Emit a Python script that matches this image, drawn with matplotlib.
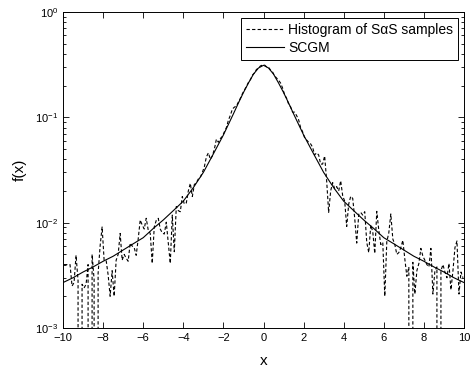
import numpy as np
import matplotlib
matplotlib.use("Agg")
import matplotlib.pyplot as plt

plt.rcParams['font.family'] = ['Liberation Sans', 'DejaVu Sans']
plt.rcParams['mathtext.fontset'] = 'custom'
plt.rcParams['mathtext.rm'] = 'Liberation Sans'
plt.rcParams['mathtext.it'] = 'Liberation Sans:italic'

# histogram of S-alpha-S samples, bin width 0.1 on [-10, 10]
hist_left_tail = [
    4.0e-3, 4.0e-3, 4.0e-3, 4.0e-3, 2.5e-3, 2.7e-3, 4.9e-3, 2.8e-3, 0.0, 2.6e-3,
    2.4e-3, 2.6e-3, 4.0e-3, 0.0, 5.0e-3, 2.9e-3, 0.0, 3.3e-3, 6.0e-3, 9.1e-3,
    4.4e-3, 4.4e-3, 3.2e-3, 2.0e-3, 3.5e-3, 2.0e-3, 4.4e-3, 5.0e-3, 7.9e-3, 4.4e-3,
    5.0e-3, 4.6e-3, 4.3e-3, 6.4e-3, 6.0e-3, 5.8e-3, 4.9e-3, 7.0e-3, 0.0106, 9.5e-3,
    8.7e-3, 0.0110, 8.5e-3, 7.9e-3, 4.1e-3, 9.1e-3, 0.0105, 0.0110, 8.7e-3, 8.0e-3,
    7.8e-3, 0.0101, 6.5e-3, 4.1e-3, 0.0118, 5.3e-3, 0.0142, 0.0130, 0.0127, 0.0177,
    0.0150, 0.0154, 0.0200, 0.0236, 0.0177, 0.0230, 0.0240, 0.0260, 0.0270, 0.0300,
]
hist_center = [
    0.034, 0.042, 0.046, 0.040, 0.043, 0.050, 0.062, 0.058, 0.063, 0.066,
    0.073, 0.080, 0.094, 0.105, 0.120, 0.125, 0.128, 0.140, 0.152, 0.168,
    0.182, 0.196, 0.215, 0.228, 0.252, 0.264, 0.285, 0.293, 0.308, 0.313,
    0.314, 0.302, 0.300, 0.281, 0.270, 0.248, 0.236, 0.225, 0.212, 0.190,
    0.165, 0.152, 0.134, 0.126, 0.112, 0.112, 0.104, 0.095, 0.080, 0.073,
    0.064, 0.061, 0.058, 0.056, 0.052, 0.044, 0.046, 0.044, 0.036, 0.036,
]
hist_right_tail = [
    0.043, 0.025, 0.0125, 0.020, 0.024, 0.021, 0.022, 0.020, 0.025, 0.018,
    0.016, 0.0092, 0.015, 0.0178, 0.017, 0.011, 0.0064, 0.012, 0.0125, 0.0118,
    0.0127, 0.0065, 0.0052, 0.0095, 0.0082, 0.0051, 0.0128, 0.0085, 0.0062, 0.0065,
    0.0020, 0.0066, 0.0080, 0.0121, 0.0070, 0.0062, 0.0050, 0.0052, 0.0058, 0.0068,
    0.0045, 0.0031, 0.0038, 0.0, 0.0042, 0.0021, 0.0035, 0.0041, 0.0057, 0.0048,
    0.0044, 0.0040, 0.0038, 0.0057, 0.0021, 0.0035, 0.0038, 0.0, 0.0035, 0.0040,
    0.0034, 0.0030, 0.0041, 0.0023, 0.0035, 0.0058, 0.0067, 0.0021, 0.0034, 0.0030,
]
bin_edges = np.linspace(-10, 10, 201)

# SCGM density
scgm_x = [-10, -9.5, -9, -8.5, -8, -7.5, -7, -6.5, -6, -5.5, -5, -4.5, -4, -3.5, -3,
          -2.5, -2, -1.5, -1.25, -1, -0.75, -0.5, -0.25, 0,
          0.25, 0.5, 0.75, 1, 1.25, 1.5, 2, 2.5, 3, 3.5, 4, 4.5, 5, 5.5,
          6, 6.5, 7, 7.5, 8, 8.5, 9, 9.5, 10]
scgm_y = [2.7e-3, 3.0e-3, 3.4e-3, 3.8e-3, 4.3e-3, 4.8e-3, 5.5e-3, 6.3e-3, 7.2e-3,
          8.8e-3, 0.0106, 0.0130, 0.0160, 0.0215, 0.030,
          0.045, 0.068, 0.108, 0.137, 0.172, 0.212, 0.257, 0.294, 0.312,
          0.294, 0.257, 0.212, 0.172, 0.137, 0.108, 0.068, 0.045, 0.030, 0.0215,
          0.0160, 0.0130, 0.0106, 0.0088,
          7.2e-3, 6.3e-3, 5.5e-3, 4.8e-3, 4.3e-3, 3.8e-3, 3.4e-3, 3.0e-3, 2.7e-3]

hist_vals = np.array(hist_left_tail + hist_center + hist_right_tail)
bin_centers = 0.5 * (bin_edges[:-1] + bin_edges[1:])
assert len(hist_vals) == len(bin_centers)

fig = plt.figure(figsize=(4.71, 3.68), dpi=100)
ax = fig.add_axes([0.1338, 0.1087, 0.8513, 0.8587])

ax.plot(bin_centers, hist_vals, color='black', linewidth=0.8,
        dashes=(3, 2), label='Histogram of S\u03b1S samples')
ax.plot(scgm_x, scgm_y, color='black', linewidth=0.8, label='SCGM')

ax.set_yscale('log', nonpositive='clip')
ax.set_xlim(-10, 10)
ax.set_ylim(1e-3, 1e0)
ax.set_xticks(np.arange(-10, 11, 2))

ax.tick_params(which='both', direction='in', top=True, right=True, labelsize=8)
ax.tick_params(which='major', length=4, width=0.6)
ax.tick_params(which='minor', length=2.5, width=0.6)
for sp in ax.spines.values():
    sp.set_linewidth(0.7)

ax.set_xlabel('x', fontsize=11, labelpad=8)
ax.set_ylabel('f(x)', fontsize=11, labelpad=6)

leg = ax.legend(loc='upper right', fontsize=10, handlelength=2.75,
                handletextpad=0.27, borderaxespad=0.45, borderpad=0.35,
                labelspacing=0.3, fancybox=False, framealpha=1,
                edgecolor='black')
leg.get_frame().set_linewidth(0.7)

fig.savefig('out.png', dpi=100)
